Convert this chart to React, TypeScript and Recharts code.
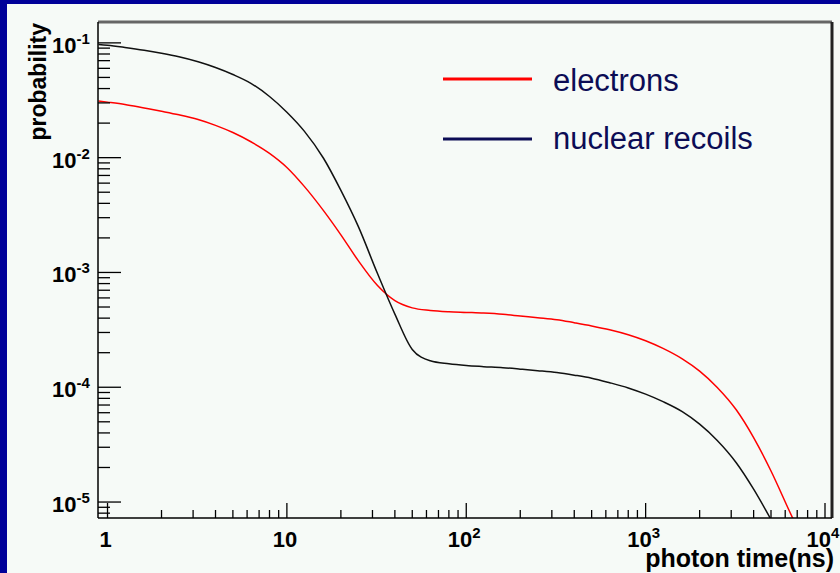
import React from "react";
import { LineChart, Line, XAxis, YAxis, ReferenceLine, Legend } from "recharts";

// photon arrival time distributions, sampled every tenth of a decade
const TIME_NS = [
  0.89, 1, 1.25, 1.6, 2, 2.5, 3.2, 4, 5, 6.3, 8, 10, 12.5, 16, 20, 25, 32, 40, 50, 63, 80, 100, 125, 160, 200, 250,
  320, 400, 500, 630, 800, 1000, 1250, 1600, 2000, 2500, 3200, 4000, 5000, 6300, 8000,
];
const ELECTRONS = [
  0.03115, 0.03047, 0.02909, 0.02706, 0.02533, 0.02361, 0.02149, 0.01912, 0.01655, 0.01376, 0.0109, 0.008215, 0.005621,
  0.003457, 0.002127, 0.001267, 0.0007687, 0.0005677, 0.0004913, 0.0004673, 0.0004552, 0.0004489, 0.0004426,
  0.0004321, 0.0004175, 0.0004036, 0.0003877, 0.000365, 0.0003423, 0.0003171, 0.0002869, 0.0002543, 0.000218,
  0.0001768, 0.0001382, 0.0001002, 0.00006365, 0.00003643, 0.00001863, 0.000008481, 0.0000038,
];
const NUCLEAR_RECOILS = [
  0.09684, 0.0953, 0.09118, 0.0862, 0.08115, 0.07565, 0.06843, 0.06102, 0.05303, 0.04444, 0.03409, 0.02488, 0.01702,
  0.009881, 0.005187, 0.002518, 0.0009781, 0.0004338, 0.0002136, 0.0001699, 0.00016, 0.0001546, 0.0001512, 0.0001479,
  0.0001438, 0.0001395, 0.0001343, 0.0001275, 0.00012, 0.0001096, 0.00009861, 0.00008704, 0.00007488, 0.00006127,
  0.00004768, 0.00003457, 0.00002202, 0.00001295, 0.000007036, null, null,
];

const X_MAJOR = [1, 10, 100, 1000, 10000];
const Y_MAJOR = [1e-5, 1e-4, 1e-3, 1e-2, 1e-1];
const MINOR_STEPS = [2, 3, 4, 5, 6, 7, 8, 9];

const X_MIN = 0.885;
const X_MAX = 10940;
const Y_MIN = 7.26e-6;
const Y_MAX = 0.152;

const X_TICKS = [...X_MAJOR, ...X_MAJOR.slice(0, 4).flatMap((d) => MINOR_STEPS.map((m) => m * d))];
const Y_TICKS = [8e-6, 9e-6, ...Y_MAJOR, ...Y_MAJOR.slice(0, 4).flatMap((d) => MINOR_STEPS.map((m) => m * d))];

const data = TIME_NS.map((t, i) => ({
  t,
  electrons: ELECTRONS[i],
  "nuclear recoils": NUCLEAR_RECOILS[i],
}));

const FONT = '"Liberation Sans", Arial, Helvetica, sans-serif';
const BLUE = "#000099";
const PAPER = "#f6faf7";
const NAVY = "#0c0c55";

const isMajor = (v: number) => Math.abs(Math.log10(v) - Math.round(Math.log10(v))) < 1e-6;

function XTick({ x, y, payload }: any) {
  const v = payload.value as number;
  const major = isMajor(v);
  const exp = Math.round(Math.log10(v));
  return (
    <g>
      <line x1={x} x2={x} y1={y} y2={y - (major ? 15 : 8)} stroke="#000" strokeWidth={1.3} />
      {major && (
        <text x={x - 2} y={y + 29} textAnchor="middle" fontFamily={FONT} fontWeight="bold" fontSize={22} fill="#000">
          {exp === 0 ? "1" : exp === 1 ? "10" : (
            <>
              10
              <tspan dy={-9} fontSize={15}>{exp}</tspan>
            </>
          )}
        </text>
      )}
    </g>
  );
}

function YTick({ x, y, payload }: any) {
  const v = payload.value as number;
  const major = isMajor(v);
  const exp = Math.round(Math.log10(v));
  return (
    <g>
      <line x1={x} x2={x + (major ? 23 : 12)} y1={y} y2={y} stroke="#000" strokeWidth={1.3} />
      {major && (
        <text x={52} y={y + 10} textAnchor="start" fontFamily={FONT} fontWeight="bold" fontSize={22} fill="#000">
          10
          <tspan dy={-9} fontSize={15}>{exp}</tspan>
        </text>
      )}
    </g>
  );
}

function LegendBox({ payload }: any) {
  const rows = payload || [];
  return (
    <svg width={380} height={100} style={{ display: "block" }}>
      {rows.map((p: any, i: number) => (
        <g key={p.value}>
          <line x1={3} x2={92} y1={19 + i * 60} y2={19 + i * 60} stroke={i === 0 ? p.color : NAVY} strokeWidth={3} />
          <text x={113} y={31 + i * 58} fontFamily={FONT} fontSize={31} fill={NAVY}>
            {p.value}
          </text>
        </g>
      ))}
    </svg>
  );
}

export default function App() {
  return (
    <div style={{ position: "absolute", left: 0, top: 0, width: 840, height: 573, background: BLUE }}>
      <div style={{ position: "absolute", left: 7, top: 4, right: 0, bottom: 0, background: PAPER }} />
      <div style={{ position: "absolute", left: 0, top: 0 }}>
        <LineChart width={840} height={573} data={data} margin={{ top: 22, right: 8, left: 0, bottom: 0 }}>
          <XAxis
            dataKey="t"
            type="number"
            scale="log"
            domain={[X_MIN, X_MAX]}
            allowDataOverflow
            ticks={X_TICKS}
            interval={0}
            height={55}
            tickSize={0}
            tickMargin={0}
            tickLine={false}
            tick={<XTick />}
            axisLine={{ stroke: "#000", strokeWidth: 1.5 }}
            label={(props: any) => {
              const vb = props.viewBox;
              return (
                <text
                  x={vb.x + vb.width + 2}
                  y={vb.y + 49}
                  textAnchor="end"
                  fontFamily={FONT}
                  fontWeight="bold"
                  fontSize={25}
                  fill="#000"
                >
                  photon time(ns)
                </text>
              );
            }}
          />
          <YAxis
            type="number"
            scale="log"
            domain={[Y_MIN, Y_MAX]}
            allowDataOverflow
            ticks={Y_TICKS}
            interval={0}
            width={98}
            tickSize={0}
            tickMargin={0}
            tickLine={false}
            tick={<YTick />}
            axisLine={{ stroke: "#000", strokeWidth: 1.5 }}
            label={(props: any) => {
              const vb = props.viewBox;
              return (
                <text
                  x={46}
                  y={vb.y + 1}
                  transform={`rotate(-90 46 ${vb.y + 1})`}
                  textAnchor="end"
                  fontFamily={FONT}
                  fontWeight="bold"
                  fontSize={23}
                  fill="#000"
                >
                  probability
                </text>
              );
            }}
          />
          <ReferenceLine y={Y_MAX} stroke="#666" strokeWidth={3} />
          <ReferenceLine x={X_MAX} stroke="#222" strokeWidth={3} />
          <Legend
            layout="vertical"
            align="center"
            verticalAlign="middle"
            content={<LegendBox />}
            wrapperStyle={{ top: 60, left: 440, width: 380 }}
          />
          <Line
            type="monotone"
            dataKey="electrons"
            stroke="#ff0000"
            strokeWidth={1.5}
            dot={false}
            isAnimationActive={false}
          />
          <Line
            type="monotone"
            dataKey="nuclear recoils"
            stroke="#111111"
            strokeWidth={1.5}
            dot={false}
            isAnimationActive={false}
          />
        </LineChart>
      </div>
    </div>
  );
}
